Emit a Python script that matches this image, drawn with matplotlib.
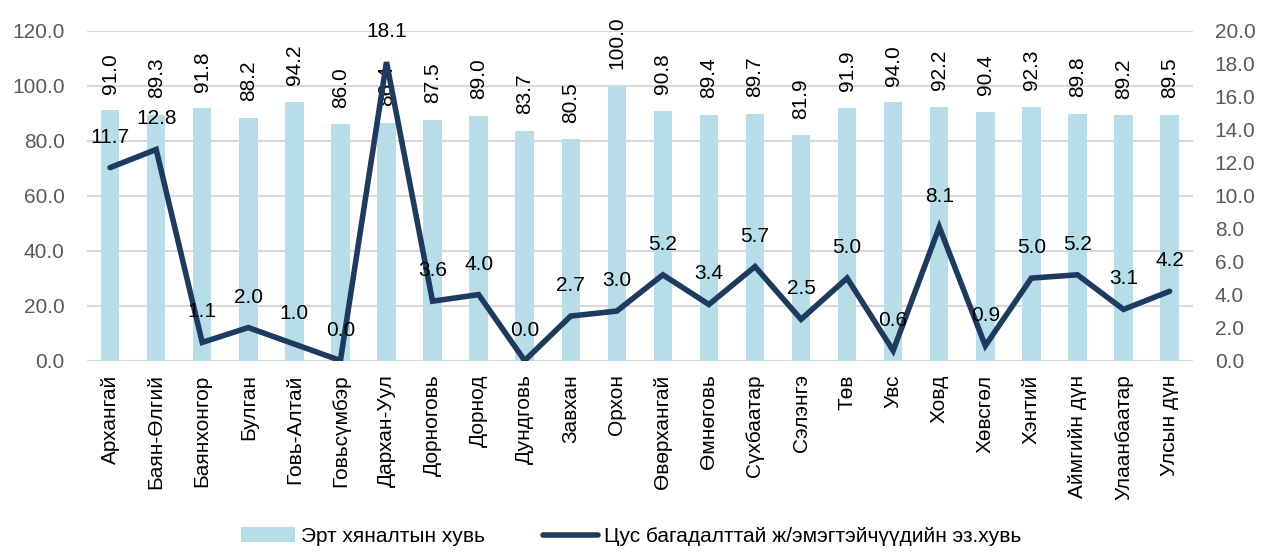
import matplotlib.pyplot as plt
import numpy as np

plt.rcParams['font.family'] = ['Liberation Sans', 'DejaVu Sans']

categories = ["Архангай", "Баян-Өлгий", "Баянхонгор", "Булган", "Говь-Алтай",
              "Говьсүмбэр", "Дархан-Уул", "Дорноговь", "Дорнод", "Дундговь",
              "Завхан", "Орхон", "Өвөрхангай", "Өмнөговь", "Сүхбаатар",
              "Сэлэнгэ", "Төв", "Увс", "Ховд", "Хөвсгөл", "Хэнтий",
              "Аймгийн дүн", "Улаанбаатар", "Улсын дүн"]
early_check = [91.0, 89.3, 91.8, 88.2, 94.2, 86.0, 86.4, 87.5, 89.0, 83.7,
               80.5, 100.0, 90.8, 89.4, 89.7, 81.9, 91.9, 94.0, 92.2, 90.4,
               92.3, 89.8, 89.2, 89.5]
anemia = [11.7, 12.8, 1.1, 2.0, 1.0, 0.0, 18.1, 3.6, 4.0, 0.0, 2.7, 3.0,
          5.2, 3.4, 5.7, 2.5, 5.0, 0.6, 8.1, 0.9, 5.0, 5.2, 3.1, 4.2]

bar_color = "#B7DEE8"
line_color = "#1F3A5F"
grey = "#595959"
fs = 15

fig = plt.figure(figsize=(12.62, 5.59), dpi=100)
ax = fig.add_axes([0.069, 0.355, 0.876, 0.59])
x = np.arange(len(categories))

bars = ax.bar(x, early_check, width=0.4, color=bar_color, zorder=2)
for xi, v in zip(x, early_check):
    ax.annotate(f"{v:.1f}", (xi, v), xytext=(0, 12), textcoords="offset points",
                rotation=90, ha="center", va="bottom", fontsize=fs, color="black")

ax.set_ylim(0, 120)
ax.set_yticks(np.arange(0, 121, 20))
ax.set_yticklabels([f"{t:.1f}" for t in np.arange(0, 121, 20)])
ax.set_xlim(-0.5, len(categories) - 0.5)
ax.set_xticks(x)
ax.set_xticklabels(categories, rotation=90, ha="center", va="top")
ax.grid(axis="y", color="#D9D9D9", linewidth=1.5, zorder=0)
ax.set_axisbelow(True)
for s in ax.spines.values():
    s.set_visible(False)
ax.tick_params(axis="y", length=0, pad=16, labelsize=fs, labelcolor=grey)
ax.tick_params(axis="x", length=0, pad=10, labelsize=fs, labelcolor="black")

ax2 = ax.twinx()
line, = ax2.plot(x, anemia, color=line_color, linewidth=4, solid_capstyle="round",
                 solid_joinstyle="miter", zorder=3)
for xi, v in zip(x, anemia):
    ax2.annotate(f"{v:.1f}", (xi, v), xytext=(0, 18), textcoords="offset points",
                 ha="center", va="baseline", fontsize=fs, color="black")
ax2.set_ylim(0, 20)
ax2.set_yticks(np.arange(0, 21, 2))
ax2.set_yticklabels([f"{t:.1f}" for t in np.arange(0, 21, 2)])
for s in ax2.spines.values():
    s.set_visible(False)
ax2.tick_params(axis="y", length=0, pad=16, labelsize=fs, labelcolor=grey)

labels = ["Эрт хяналтын хувь", "Цус багадалттай ж/эмэгтэйчүүдийн эз.хувь"]
fig.legend([bars, line], labels, loc="lower center", bbox_to_anchor=(0.5, -0.01),
           ncol=2, frameon=False, fontsize=fs, handlelength=2.6,
           handletextpad=0.3, columnspacing=2.8)

fig.savefig("out.png", dpi=100)
